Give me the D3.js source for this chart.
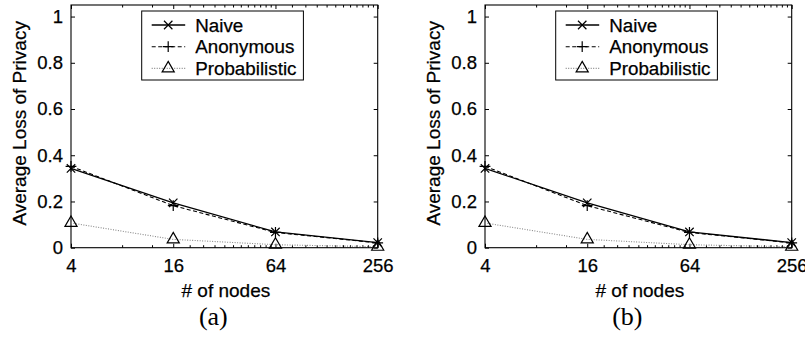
<!DOCTYPE html>
<html>
<head>
<meta charset="utf-8">
<script src="https://cdn.jsdelivr.net/npm/d3@7"></script>
<style>
  body { margin: 0; background: #fff; }
  svg { display: block; }
</style>
</head>
<body>
<svg class="chart"></svg>
<script>
const width = 805;
const height = 339;

// data
const nodes = [4, 16, 64, 256];
const naive = [0.343, 0.194, 0.068, 0.022];
const anonymous = [0.352, 0.182, 0.066, 0.021];
const probabilistic = [0.107, 0.036, 0.013, 0.004];
const yTicks = [0, 0.2, 0.4, 0.6, 0.8, 1];
const xMinorTicks = [8, 12, 20, 24, 28, 32, 36, 40, 44, 48, 52, 56, 60,
  80, 96, 112, 128, 144, 160, 176, 192, 208, 224, 240];
const seriesNames = ['Naive', 'Anonymous', 'Probabilistic'];
const panelLabels = ['(a)', '(b)'];

const sans = '"Liberation Sans", Arial, Helvetica, sans-serif';
const serif = '"Liberation Serif", "Times New Roman", serif';

const svg = d3.select('.chart')
    .attr('width', width)
    .attr('height', height);

const plotW = 306.7;
const plotH = 242.7;

const x = d3.scaleLog().base(2).domain([4, 256]).range([0, plotW]);
const y = d3.scaleLinear().domain([0, 1.05]).range([plotH, 0]);

const styles = [
  {values: naive, dash: null, color: '#000', width: 1.3, symbol: d3.symbolTimes, size: 48},
  {values: anonymous, dash: '4,2.5', color: '#000', width: 1.1, symbol: d3.symbolPlus, size: 40},
  {values: probabilistic, dash: '1,1.5', color: '#888', width: 1.1, symbol: d3.symbolTriangle2, size: 105}
];

function sansText(sel, size) {
  return sel.attr('font-family', sans)
      .attr('font-size', size)
      .attr('fill', '#000')
      .attr('stroke', '#000')
      .attr('stroke-width', 0.25);
}

function drawPanel(offsetX, label) {
  const g = svg.append('g')
      .attr('transform', `translate(${offsetX},5)`);

  // axes (ticks inward)
  g.append('g')
      .attr('transform', `translate(0,${plotH})`)
      .call(d3.axisBottom(x).tickValues(nodes).tickFormat(d => String(d))
        .tickSizeInner(-4).tickSizeOuter(0).tickPadding(11));
  g.append('g')
      .attr('transform', `translate(0,${plotH})`)
      .call(d3.axisBottom(x).tickValues(xMinorTicks).tickFormat('')
        .tickSizeInner(-2.5).tickSizeOuter(0));
  g.append('g')
      .call(d3.axisTop(x).tickValues(nodes).tickFormat('')
        .tickSizeInner(-4).tickSizeOuter(0));
  g.append('g')
      .call(d3.axisTop(x).tickValues(xMinorTicks).tickFormat('')
        .tickSizeInner(-2.5).tickSizeOuter(0));
  g.append('g')
      .call(d3.axisLeft(y).tickValues(yTicks).tickFormat(d => d === 0 || d === 1 ? String(d) : d3.format('.1f')(d))
        .tickSizeInner(-4).tickSizeOuter(0).tickPadding(8));
  g.append('g')
      .attr('transform', `translate(${plotW},0)`)
      .call(d3.axisRight(y).tickValues(yTicks).tickFormat('')
        .tickSizeInner(-4).tickSizeOuter(0));

  g.selectAll('.domain').remove();
  g.selectAll('.tick line').attr('stroke', '#000').attr('stroke-width', 1);
  sansText(g.selectAll('.tick text'), 18.5);

  g.append('rect')
      .attr('width', plotW)
      .attr('height', plotH)
      .attr('fill', 'none')
      .attr('stroke', '#000')
      .attr('stroke-width', 1.1);

  // series
  const line = d3.line()
      .x((d, i) => x(nodes[i]))
      .y(d => y(d));

  styles.forEach(s => {
    g.append('path')
        .datum(s.values)
        .attr('d', line)
        .attr('fill', 'none')
        .attr('stroke', s.color)
        .attr('stroke-width', s.width)
        .attr('stroke-dasharray', s.dash);
  });
  styles.forEach(s => {
    g.selectAll(null)
        .data(s.values)
        .enter()
        .append('path')
        .attr('transform', (d, i) => `translate(${x(nodes[i])},${y(d)})`)
        .attr('d', d3.symbol(s.symbol, s.size))
        .attr('fill', 'none')
        .attr('stroke', '#000')
        .attr('stroke-width', 1.2);
  });

  // legend
  const legend = g.append('g')
      .attr('transform', `translate(70.7,6)`);
  legend.append('rect')
      .attr('width', 161.7)
      .attr('height', 69)
      .attr('fill', '#fff')
      .attr('stroke', '#000')
      .attr('stroke-width', 1);
  seriesNames.forEach((name, i) => {
    const s = styles[i];
    const ly = 14 + i * 21.7;
    legend.append('line')
        .attr('x1', 10).attr('x2', 43.5)
        .attr('y1', ly).attr('y2', ly)
        .attr('stroke', s.color)
        .attr('stroke-width', s.width)
        .attr('stroke-dasharray', s.dash);
    legend.append('path')
        .attr('transform', `translate(26.5,${ly})`)
        .attr('d', d3.symbol(s.symbol, s.size))
        .attr('fill', 'none')
        .attr('stroke', '#000')
        .attr('stroke-width', 1.2);
    sansText(legend.append('text'), 18.8)
        .attr('x', 53.5)
        .attr('y', ly)
        .attr('dy', '0.36em')
        .text(name);
  });

  // axis titles
  sansText(g.append('text'), 19)
      .attr('text-anchor', 'middle')
      .attr('x', plotW / 2 + 1.5)
      .attr('y', 292)
      .text('# of nodes');

  sansText(g.append('text'), 19)
      .attr('text-anchor', 'middle')
      .attr('transform', `translate(-45,${plotH / 2 - 3}) rotate(-90)`)
      .text('Average Loss of Privacy');

  g.append('text')
      .attr('text-anchor', 'middle')
      .attr('x', plotW / 2 - 11)
      .attr('y', 320)
      .attr('font-family', serif)
      .attr('font-size', 26)
      .text(label);
}

drawPanel(71, panelLabels[0]);
drawPanel(485, panelLabels[1]);
</script>
</body>
</html>
